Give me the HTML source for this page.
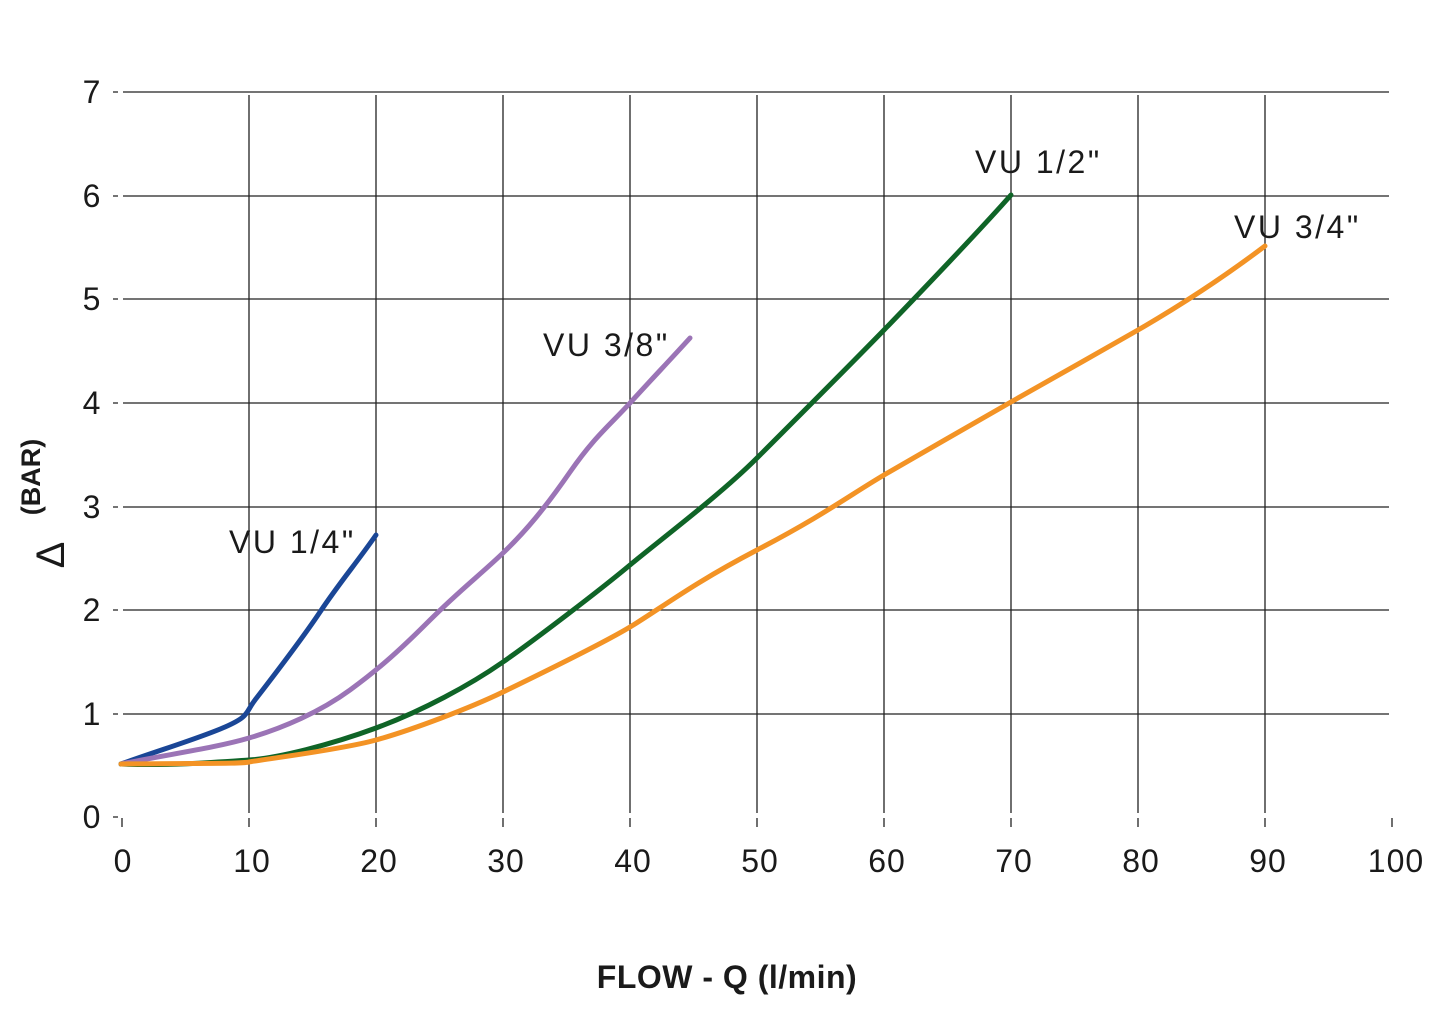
<!DOCTYPE html>
<html><head><meta charset="utf-8"><style>
html,body{margin:0;padding:0;background:#fff;}
svg{display:block;font-family:"Liberation Sans",sans-serif;}
</style></head><body>
<svg width="1449" height="1026" viewBox="0 0 1449 1026" xmlns="http://www.w3.org/2000/svg">
<g stroke="#222" stroke-width="1.3" fill="none">
<path d="M123 92H1389M123 196H1389M123 299H1389M123 403H1389M123 507H1389M123 610H1389M123 714H1389"/>
<path d="M113 92H118M113 196H118M113 299H118M113 403H118M113 507H118M113 610H118M113 714H118M113 817H118"/>
<path d="M249 95V813M376 95V813M503 95V813M630 95V813M757 95V813M884 95V813M1011 95V813M1138 95V813M1265 95V813"/>
<path d="M122 818V827M249 818V827M376 818V827M503 818V827M630 818V827M757 818V827M884 818V827M1011 818V827M1138 818V827M1265 818V827M1392 818V827"/>
</g>
<g font-size="32" fill="#1a1a1a" text-anchor="middle" letter-spacing="1">
<text x="92" y="103">7</text><text x="92" y="207">6</text><text x="92" y="310">5</text><text x="92" y="414">4</text>
<text x="92" y="518">3</text><text x="92" y="621">2</text><text x="92" y="725">1</text><text x="92" y="828">0</text>
<text x="123" y="872">0</text><text x="252" y="872">10</text><text x="379" y="872">20</text><text x="506" y="872">30</text>
<text x="633" y="872">40</text><text x="760" y="872">50</text><text x="887" y="872">60</text><text x="1014" y="872">70</text>
<text x="1141" y="872">80</text><text x="1268" y="872">90</text><text x="1396" y="872">100</text>
</g>
<text x="727" y="988" font-size="32" text-anchor="middle" fill="#1a1a1a" font-weight="bold" letter-spacing="0.5">FLOW - Q (l/min)</text>
<text x="0" y="0" font-size="27" font-weight="bold" text-anchor="middle" fill="#1a1a1a" transform="translate(40,477) rotate(-90)">(BAR)</text>
<text x="0" y="0" font-size="40" text-anchor="middle" fill="#1a1a1a" transform="translate(64,555) rotate(-90)">Δ</text>
<g fill="none" stroke-width="5" stroke-linecap="round" stroke-linejoin="round">
<path stroke="#1a4696" d="M121 764C160 750 200 738 225 727S245 713 255 700S300 642 320 612S355 565 376 535"/>
<path stroke="#9b74b6" d="M121 764C170 754 215 748 249 738S320 712 350 690S400 650 430 620S480 575 503 553S545 508 570 472S610 425 630 403S670 360 690 338"/>
<path stroke="#0f6427" d="M121 764C170 766 220 762 249 760S330 745 376 728S470 685 503 662S600 590 630 565S720 495 757 458S850 365 884 330S980 230 1011 195"/>
<path stroke="#f39325" d="M121 764C200 763 240 764 249 762S340 750 376 740S470 708 503 692S600 645 630 627S690 585 757 550S850 495 884 475S980 420 1011 402S1100 352 1138 330S1220 280 1265 246"/>
</g>
<g font-size="32" fill="#1a1a1a" letter-spacing="2.5">
<text x="229" y="553">VU 1/4"</text>
<text x="543" y="356">VU 3/8"</text>
<text x="975" y="173">VU 1/2"</text>
<text x="1234" y="238">VU 3/4"</text>
</g>
</svg>
</body></html>
